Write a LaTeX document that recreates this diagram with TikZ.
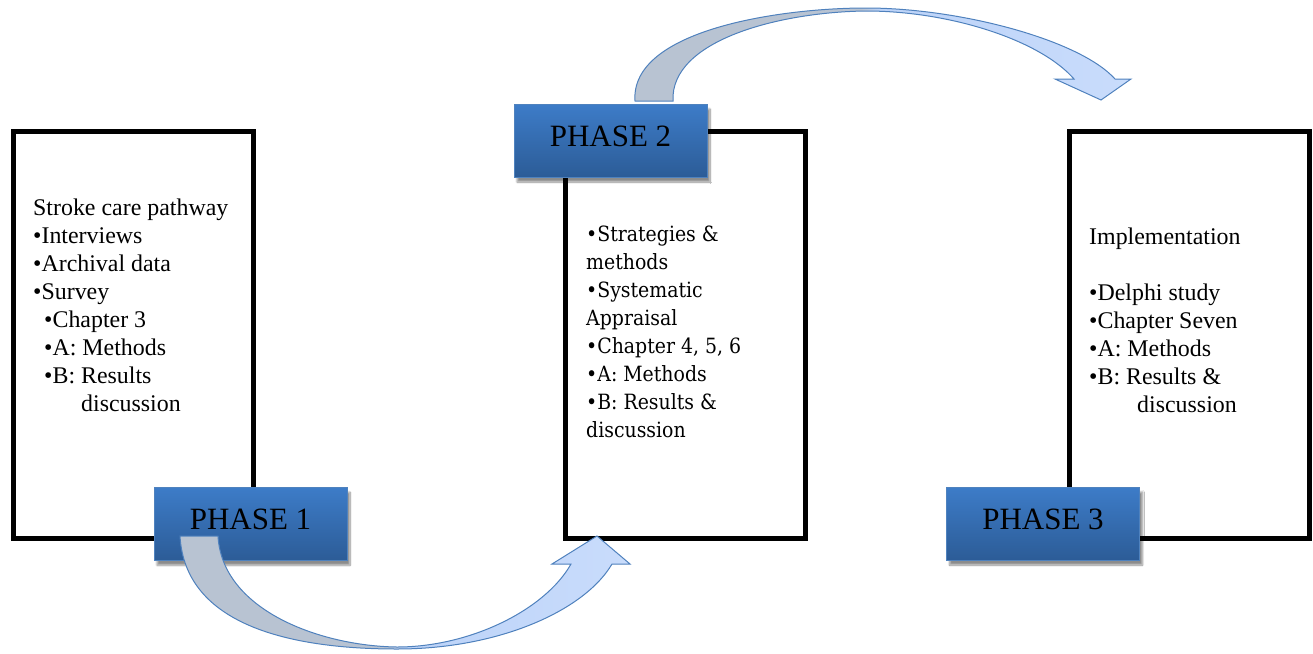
\documentclass[tikz,border=0pt]{standalone}
\usepackage{fontspec}
\setmainfont{Liberation Serif}
\newfontfamily\boxtwofont{DejaVu Serif Condensed}
\usetikzlibrary{shadows.blur}

\definecolor{phasetop}{HTML}{3D7CC8}
\definecolor{phasebot}{HTML}{2C5C97}
\definecolor{phaseedge}{HTML}{4F82BE}
\definecolor{arrowedge}{HTML}{4F81BD}
\definecolor{arrowgrey}{HTML}{B8C3D2}
\definecolor{arrowblue}{HTML}{BCD3F8}
\definecolor{arrowpale}{HTML}{D6E5FF}

% grey on the tail half, pale blue towards the head
\pgfdeclarehorizontalshading{bentfill}{100bp}{%
  color(0bp)=(arrowgrey); color(48bp)=(arrowgrey);
  color(50bp)=(arrowblue); color(100bp)=(arrowpale)}

\tikzset{
  panel/.style={draw=black, line width=5pt, fill=white,
    minimum width=240pt, minimum height=407.5pt, anchor=north west,
    inner sep=0pt},
  phase/.style={draw=phaseedge, line width=1pt,
    top color=phasetop, bottom color=phasebot,
    minimum width=193pt, minimum height=73pt, inner sep=0pt,
    font=\fontsize{31}{31}\selectfont,
    blur shadow={shadow xshift=3pt, shadow yshift=-5pt,
      shadow blur steps=10, shadow opacity=45}},
  bodytext/.style={align=left, anchor=north west, inner sep=0pt,
    font=\fontsize{23.9}{28}\selectfont},
  bent/.style={draw=arrowedge, line width=1pt, shading=bentfill},
}

\begin{document}
\begin{tikzpicture}[x=1pt, y=-1pt]
\useasboundingbox (0,0) rectangle (1313,653);

% outlined panels
\node[panel] (p1) at (11,128.5) {};
\node[panel] (p2) at (563,128.5) {};
\node[panel] (p3) at (1066.5,128.5) {};

% panel contents
\node[bodytext] (t1) at (33,199) {Stroke care pathway\\
  •Interviews\\
  •Archival data\\
  •Survey\\
  \hspace*{11pt}•Chapter 3\\
  \hspace*{11pt}•A: Methods\\
  \hspace*{11pt}•B: Results\\
  \hspace*{48pt}discussion};

\node[bodytext, font=\boxtwofont\fontsize{21}{28}\selectfont] (t2) at (586,226) {•Strategies \&\\
  methods\\
  •Systematic\\
  Appraisal\\
  •Chapter 4, 5, 6\\
  •A: Methods\\
  •B: Results \&\\
  discussion};

\node[bodytext] (t3) at (1089,228) {Implementation\\
  \\
  •Delphi study\\
  •Chapter Seven\\
  •A: Methods\\
  •B: Results \&\\
  \hspace*{48pt}discussion};

% phase labels
\node[phase] (ph1) at (250.5,523.7) {\raisebox{9pt}{PHASE 1}};
\node[phase] (ph2) at (610.5,140.5) {\raisebox{9pt}{PHASE 2}};
\node[phase] (ph3) at (1043,523.5) {\raisebox{9pt}{PHASE 3}};

% bent arrow from phase 1 to phase 2
\path[bent] (180,536) .. controls (185,625) and (290,649) .. (397,649)
  .. controls (500,649) and (585,610) .. (612,564)
  -- (630,564) -- (597,536) -- (552,564) -- (571,564)
  .. controls (545,610) and (470,647) .. (397,647)
  .. controls (320,646) and (222,610) .. (218,536) -- cycle;

% bent arrow from phase 2 to phase 3
\path[bent] (635,101) .. controls (630,30) and (780,8) .. (866,8)
  .. controls (960,8) and (1080,40) .. (1115,79)
  -- (1131,79) -- (1101,100) -- (1055,79) -- (1074,79)
  .. controls (1040,40) and (950,11) .. (866,11)
  .. controls (780,12) and (670,40) .. (673,101) -- cycle;
\end{tikzpicture}
\end{document}
